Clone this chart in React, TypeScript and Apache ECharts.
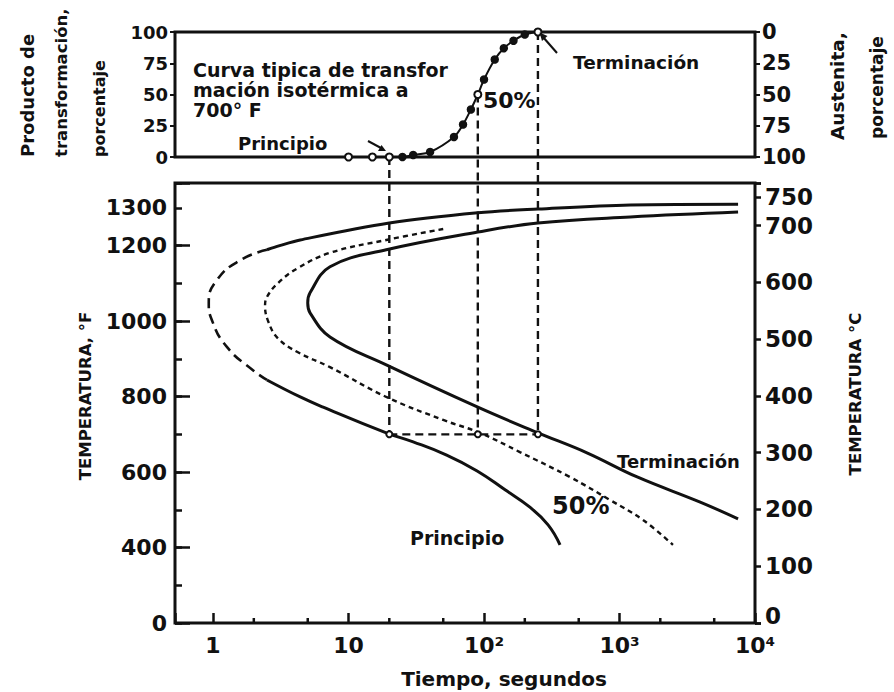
import { useEffect, useRef } from "react";
import * as echarts from "echarts";

// ---- axes ----
const timeMin = 0.524;
const timeMax = 10000;
const timeTickLabels: Record<number, string> = { 0: "1", 1: "10", 2: "10²", 3: "10³", 4: "10⁴" };
const timeMinorTicks = [2, 5, 20, 50, 200, 500, 2000, 5000];
const tempFMin = 200; // shown as "0" (broken axis)
const tempFMax = 1366;
const tempFLabels = [400, 600, 800, 1000, 1200, 1300];
const tempCMax = 775;
const pctTicks = [0, 25, 50, 75, 100];

// ---- top curve: isothermal transformation at 700 F ----
const transTime = [10, 15, 20, 25, 30, 40, 60, 70, 80, 90, 100, 120, 140, 165, 200, 250];
const transPct = [0, 0, 0, 0, 1.6, 4, 16, 26, 38, 50, 62, 78, 87, 93, 98, 100];
const transOpen = [true, true, true, false, false, false, false, false, false, true, false, false, false, false, false, true];

// ---- reference (isothermal 700 F) ----
const refTimes = [20, 90, 250];
const refPct = [0, 50, 100];
const isoTemp = 700;

// ---- TTT curves (time s, temp F) ----
const startUpper: [number, number][] = [[7500, 1310], [1200, 1308], [250, 1297], [90, 1287], [20, 1260], [4.4, 1215], [3.1, 1200], [2.5, 1189]];
const startNose: [number, number][] = [[2.5, 1189], [1.6, 1162], [1.07, 1109], [0.93, 1048], [0.98, 1003], [1.27, 931], [1.97, 870], [2.5, 844]];
const startLower: [number, number][] = [[2.5, 844], [4.4, 799], [6.5, 772], [19, 704], [30, 680], [53, 645], [89, 603], [143, 553], [218, 507], [297, 460], [364, 407]];
const halfCurve: [number, number][] = [[50, 1244], [19, 1215], [7.3, 1181], [4.2, 1140], [3.0, 1100], [2.5, 1064], [2.42, 1040], [2.55, 1000], [3.0, 955], [4.2, 918], [7.3, 878], [19, 799], [50, 738], [93, 704], [184, 653], [430, 587], [850, 526], [1490, 473], [2480, 407]];
const endCurve: [number, number][] = [[7500, 1289], [1200, 1276], [250, 1260], [90, 1236], [19, 1189], [7.3, 1144], [5.2, 1075], [5.0, 1048], [5.2, 1022], [7.3, 958], [19, 884], [90, 772], [250, 704], [575, 651], [1350, 587], [3900, 521], [7500, 476]];

const INK = "#111";
const FONT = "DejaVu Sans";

export default function App() {
  const ref = useRef<HTMLDivElement>(null);
  useEffect(() => {
    if (!ref.current) return;
    const chart = echarts.init(ref.current, null, { renderer: "svg" });
    const lbl = (size: number) => ({ fontFamily: FONT, fontWeight: "bold" as const, fontSize: size, color: INK });
    const timeFmt = (v: number) => {
      const lg = Math.log10(v);
      const r = Math.round(lg);
      return Math.abs(lg - r) < 1e-6 && timeTickLabels[r] !== undefined ? timeTickLabels[r] : "";
    };
    const gridCommon = { show: true, borderColor: INK, borderWidth: 3, backgroundColor: "transparent", outerBoundsMode: "none" };
    const option: any = {
      animation: false,
      backgroundColor: "#fff",
      grid: [
        { ...gridCommon, left: 175, top: 32, width: 580, height: 125 },
        { ...gridCommon, left: 175, top: 183, width: 580, height: 440 },
      ],
      xAxis: [
        {
          type: "log", gridIndex: 0, min: timeMin, max: timeMax,
          axisLine: { show: false }, axisTick: { show: false }, axisLabel: { show: false }, splitLine: { show: false },
        },
        {
          type: "log", gridIndex: 1, min: timeMin, max: timeMax,
          axisLine: { show: false },
          axisTick: { show: true, inside: true, length: 10, lineStyle: { color: INK, width: 2.5 } },
          axisLabel: { ...lbl(22), margin: 11, formatter: timeFmt },
          splitLine: { show: false },
        },
      ],
      yAxis: [
        {
          type: "value", gridIndex: 0, min: 0, max: 100, interval: 25, position: "left",
          axisLine: { show: false },
          axisTick: { show: true, inside: false, length: 5, lineStyle: { color: INK, width: 2 } },
          axisLabel: { ...lbl(18), margin: 7, formatter: (v: number) => (pctTicks.includes(v) ? String(v) : "") },
          splitLine: { show: false },
        },
        {
          type: "value", gridIndex: 0, min: 0, max: 100, interval: 25, position: "right", inverse: true,
          axisLine: { show: false },
          axisTick: { show: true, inside: false, length: 5, lineStyle: { color: INK, width: 2 } },
          axisLabel: { ...lbl(21), margin: 7, formatter: (v: number) => (pctTicks.includes(v) ? String(v) : "") },
          splitLine: { show: false },
        },
        {
          type: "value", gridIndex: 1, min: tempFMin, max: tempFMax, interval: 100, position: "left",
          axisLine: { show: false },
          axisTick: { show: true, inside: true, length: 7, lineStyle: { color: INK, width: 2.5 } },
          axisLabel: {
            ...lbl(22), margin: 8,
            formatter: (v: number) => (v === tempFMin ? "0" : tempFLabels.includes(v) ? String(v) : ""),
          },
          splitLine: { show: false },
        },
        {
          type: "value", gridIndex: 1, min: tempFMin, max: tempFMax, interval: 200, position: "left",
          axisLine: { show: false },
          axisTick: { show: true, inside: true, length: 15, lineStyle: { color: INK, width: 2.5 } },
          axisLabel: { show: false },
          splitLine: { show: false },
        },
        {
          type: "value", gridIndex: 1, min: 0, max: tempCMax, interval: 100, position: "right",
          axisLine: { show: false },
          axisTick: { show: true, inside: false, length: 6, lineStyle: { color: INK, width: 2.5 } },
          axisLabel: {
            ...lbl(23), margin: 10,
            formatter: (v: number) => (v === 0 ? "{z|0}" : v % 100 === 0 && v <= 700 ? String(v) : ""),
            rich: { z: { ...lbl(23), padding: [0, 0, 14, 0] } },
          },
          splitLine: { show: false },
        },
        {
          type: "value", gridIndex: 1, min: 0, max: tempCMax, interval: 750, position: "right",
          axisLine: { show: false },
          axisTick: { show: true, inside: false, length: 6, lineStyle: { color: INK, width: 2.5 } },
          axisLabel: { ...lbl(23), margin: 10, formatter: (v: number) => (v === 750 ? "750" : "") },
          splitLine: { show: false },
        },
      ],
      series: [
        {
          type: "line", xAxisIndex: 0, yAxisIndex: 0, z: 4,
          data: transTime.map((t, i) => ({
            value: [t, transPct[i]],
            symbol: transOpen[i] ? "emptyCircle" : "circle",
          })),
          symbolSize: 7,
          showSymbol: true,
          lineStyle: { color: INK, width: 2 },
          itemStyle: { color: INK, borderColor: INK, borderWidth: 1.5 },
          smooth: 0.3,
        },
        {
          type: "line", xAxisIndex: 1, yAxisIndex: 2, data: startUpper, showSymbol: false, smooth: 0.35,
          lineStyle: { color: INK, width: 3 },
        },
        {
          type: "line", xAxisIndex: 1, yAxisIndex: 2, data: startNose, showSymbol: false, smooth: 0.5,
          lineStyle: { color: INK, width: 2.6, type: [10, 6] },
        },
        {
          type: "line", xAxisIndex: 1, yAxisIndex: 2, data: startLower, showSymbol: false, smooth: 0.45,
          lineStyle: { color: INK, width: 3 },
        },
        {
          type: "line", xAxisIndex: 1, yAxisIndex: 2, data: halfCurve, showSymbol: false, smooth: 0.4,
          lineStyle: { color: INK, width: 2.4, type: [5, 4] },
        },
        {
          type: "line", xAxisIndex: 1, yAxisIndex: 2, data: endCurve, showSymbol: false, smooth: 0.4,
          lineStyle: { color: INK, width: 3 },
        },
        {
          type: "line", xAxisIndex: 1, yAxisIndex: 2, z: 5,
          data: refTimes.map((t) => [t, isoTemp]),
          symbol: "emptyCircle", symbolSize: 6, showSymbol: true,
          lineStyle: { color: INK, width: 2.2, type: [8, 5] },
          itemStyle: { color: INK, borderColor: INK, borderWidth: 1.5 },
        },
        {
          type: "custom", xAxisIndex: 1, yAxisIndex: 2, silent: true, clip: false,
          data: timeMinorTicks.map((t) => [t, tempFMin]),
          renderItem: (_p: any, api: any) => {
            const p = api.coord([api.value(0), api.value(1)]);
            return {
              type: "line",
              shape: { x1: p[0], y1: p[1], x2: p[0], y2: p[1] - 5 },
              style: { stroke: INK, lineWidth: 2.5 },
            };
          },
        },
      ],
    };
    chart.setOption(option);

    const topIdx = 0;
    const isoIdx = 6;
    const refLines = refTimes.map((t, i) => {
      const a = chart.convertToPixel({ seriesIndex: topIdx }, [t, refPct[i]]) as number[];
      const b = chart.convertToPixel({ seriesIndex: isoIdx }, [t, isoTemp]) as number[];
      return {
        type: "line", z: 3, silent: true,
        shape: { x1: a[0], y1: a[1], x2: b[0], y2: b[1] },
        style: { stroke: INK, lineWidth: 2.4, lineDash: [8, 5] },
      };
    });
    const txt = (text: string, x: number, y: number, size: number, extra: any = {}) => ({
      type: "text", x, y, z: 10, silent: true,
      style: { text, fontFamily: FONT, fontWeight: "bold", fontSize: size, fill: INK, align: "left", verticalAlign: "middle", ...extra },
    });
    const rot = (text: string, x: number, y: number, size: number, align: string) => ({
      type: "text", x, y, rotation: Math.PI / 2, z: 10, silent: true,
      style: { text, fontFamily: FONT, fontWeight: "bold", fontSize: size, fill: INK, align, verticalAlign: "middle" },
    });
    const graphics: any[] = [
      ...refLines,
      // top panel annotations
      txt("Curva tipica de transfor", 193, 70, 19),
      txt("mación isotérmica a", 193, 90, 19),
      txt("700° F", 193, 110, 19),
      txt("Principio", 238, 143, 18),
      txt("50%", 483, 100, 22),
      txt("Terminación", 573, 62, 18.5),
      // arrows
      { type: "line", z: 10, shape: { x1: 557, y1: 53, x2: 543, y2: 37 }, style: { stroke: INK, lineWidth: 2 } },
      { type: "polygon", z: 10, shape: { points: [[539.5, 32.5], [547.5, 36], [542, 41]] }, style: { fill: INK } },
      { type: "line", z: 10, shape: { x1: 368, y1: 141, x2: 381, y2: 148 }, style: { stroke: INK, lineWidth: 2 } },
      { type: "polygon", z: 10, shape: { points: [[386, 151], [378, 151], [381.5, 145]] }, style: { fill: INK } },
      // main panel annotations
      txt("Terminación", 617, 461, 18),
      txt("50%", 552, 506, 24),
      txt("Principio", 410, 538, 19),
      txt("Tiempo, segundos", 504, 679, 20, { align: "center" }),
      // rotated axis titles
      rot("TEMPERATURA, °F", 85, 396, 16.5, "center"),
      rot("TEMPERATURA °C", 855, 394, 16.5, "center"),
      rot("Producto de", 27, 157, 18, "left"),
      rot("transformación,", 61, 157, 16.5, "left"),
      rot("porcentaje", 99, 157, 16, "left"),
      rot("Austenita,", 837, 140, 18.5, "left"),
      rot("porcentaje", 877, 139, 17, "left"),
    ];
    chart.setOption({ graphic: graphics });
    return () => chart.dispose();
  }, []);
  return (
    <div
      ref={ref}
      style={{ position: "fixed", left: 0, top: 0, width: 894, height: 692, background: "#fff" }}
    />
  );
}
